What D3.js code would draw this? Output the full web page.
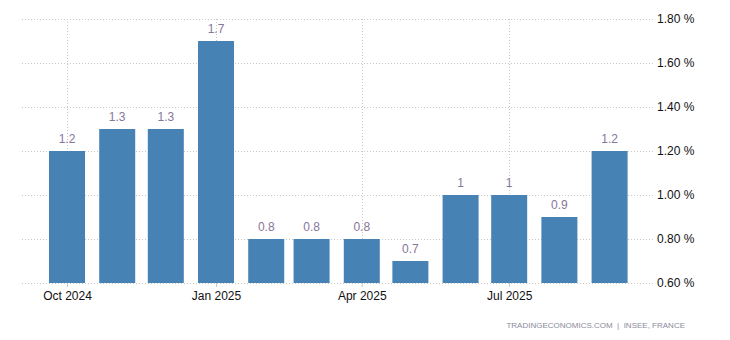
<!DOCTYPE html>
<html><head><meta charset="utf-8">
<script src="https://cdn.jsdelivr.net/npm/d3@7"></script>
<style>body{margin:0;background:#fff;}svg{display:block;font-family:"Liberation Sans",Arial,sans-serif;}</style>
</head><body><svg id="c" width="730" height="340"></svg>
<script>
const months = ["2024-10","2024-11","2024-12","2025-01","2025-02","2025-03","2025-04","2025-05","2025-06","2025-07","2025-08","2025-09"];
const values = [1.2,1.3,1.3,1.7,0.8,0.8,0.8,0.7,1,1,0.9,1.2];
const yTicks = [0.6,0.8,1.0,1.2,1.4,1.6,1.8];
const xTickMonths = ["2024-10","2025-01","2025-04","2025-07"];
const source = "TRADINGECONOMICS.COM  |  INSEE, FRANCE";

const parse = d3.timeParse("%Y-%m");
const svg = d3.select("#c");
const pLeft = 22, pRight = 653, pTop = 19, pBottom = 283;
const x = d3.scaleTime().domain([parse("2024-10"), parse("2025-09")]).range([67, 609.6]);
const y = d3.scaleLinear().domain([0.6, 1.8]).range([pBottom, pTop]);
const barW = 36;

// horizontal grid
svg.append("g").selectAll("line").data(yTicks).join("line")
  .attr("x1", pLeft).attr("x2", pRight)
  .attr("y1", d => Math.round(y(d)) + 0.5).attr("y2", d => Math.round(y(d)) + 0.5)
  .attr("stroke", "#c8c8c8").attr("stroke-dasharray", "1,2");
// vertical grid
svg.append("g").selectAll("line").data(xTickMonths).join("line")
  .attr("x1", d => Math.round(x(parse(d))) + 0.5).attr("x2", d => Math.round(x(parse(d))) + 0.5)
  .attr("y1", pTop).attr("y2", pBottom)
  .attr("stroke", "#c8c8c8").attr("stroke-dasharray", "1,2");

// bars
svg.append("g").selectAll("rect").data(months).join("rect")
  .attr("x", d => x(parse(d)) - barW / 2)
  .attr("width", barW)
  .attr("y", (d, i) => y(values[i]))
  .attr("height", (d, i) => pBottom - y(values[i]))
  .attr("fill", "#4682b4");

// value labels
svg.append("g").selectAll("text").data(months).join("text")
  .attr("x", d => x(parse(d)))
  .attr("y", (d, i) => y(values[i]) - 8)
  .attr("text-anchor", "middle")
  .attr("font-size", 12)
  .attr("fill", "#85769a")
  .text((d, i) => String(values[i]));

// x axis
const xAxis = d3.axisBottom(x).tickValues(xTickMonths.map(parse)).tickFormat(d3.timeFormat("%b %Y")).tickSize(4).tickPadding(4);
const gx = svg.append("g").attr("transform", `translate(0,${pBottom})`).call(xAxis);
gx.select(".domain").remove();
gx.selectAll(".tick line").attr("stroke", "#c8c8c8");
gx.selectAll(".tick text").attr("font-size", 12).attr("fill", "#111").attr("font-family", "Liberation Sans, Arial, sans-serif");

// y axis
const yAxis = d3.axisRight(y).tickValues(yTicks).tickFormat(d => d3.format(".2f")(d) + " %").tickSize(0).tickPadding(4);
const gy = svg.append("g").attr("transform", `translate(${pRight},0)`).call(yAxis);
gy.select(".domain").remove();
gy.selectAll(".tick text").attr("font-size", 12).attr("fill", "#111").attr("font-family", "Liberation Sans, Arial, sans-serif");

// source
svg.append("text").attr("x", 685).attr("y", 328).attr("text-anchor", "end")
  .attr("font-size", 8).attr("fill", "#8a8a9a")
  .style("white-space", "pre")
  .text(source);
</script></body></html>
